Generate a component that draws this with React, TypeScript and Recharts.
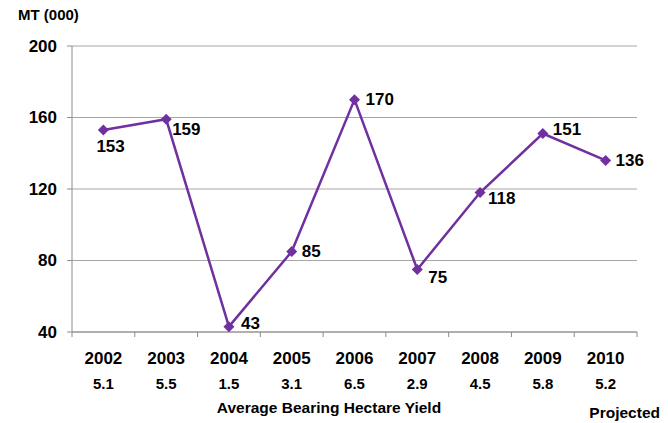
import { LineChart, Line, XAxis, YAxis, CartesianGrid, Label, LabelList } from 'recharts'

const YEARS = ['2002', '2003', '2004', '2005', '2006', '2007', '2008', '2009', '2010']
const YIELDS = ['5.1', '5.5', '1.5', '3.1', '6.5', '2.9', '4.5', '5.8', '5.2']
const PRODUCTION = [153, 159, 43, 85, 170, 75, 118, 151, 136]
const Y_TICKS = [40, 80, 120, 160, 200]

// per-point label nudges (dx, dy) so numbers sit clear of the line
const LABEL_NUDGE: [number, number][] = [
  [-7, 16], [6, 10], [12, -3], [10, 0], [11, 0], [11, 8], [8, 6], [10, -4], [10, 0],
]

const W = 668
const H = 423
const MARGIN = { top: 46, right: 31, bottom: 0, left: 0 }
const Y_AXIS_W = 72
const X_AXIS_H = 91
const BAND = (W - MARGIN.right - Y_AXIS_W) / YEARS.length

const PURPLE = '#7030a0'
const GRID = '#a6a6a6'
const AXIS = '#8c8c8c'
const FONT = '"Liberation Sans", Arial, sans-serif'

const data = PRODUCTION.map((v, i) => ({ x: i + 0.5, year: YEARS[i], yieldHa: YIELDS[i], value: v }))

function YearTick({ x, y, payload }: any) {
  const i = payload.value
  if (i >= YEARS.length) return <g />
  const cx = x + BAND / 2
  return (
    <g fontFamily={FONT} fontWeight="bold" fill="#000">
      <text x={cx} y={y + 25} textAnchor="middle" fontSize={17}>{YEARS[i]}</text>
      <text x={cx} y={y + 50} textAnchor="middle" fontSize={15}>{YIELDS[i]}</text>
    </g>
  )
}

function ValueTick({ x, y, payload }: any) {
  return (
    <text
      x={x}
      y={y}
      textAnchor="end"
      dominantBaseline="central"
      fontFamily={FONT}
      fontWeight="bold"
      fontSize={17}
      fill="#000"
    >
      {payload.value}
    </text>
  )
}

function Diamond({ cx, cy, index }: any) {
  const r = 5.5
  return (
    <path
      key={`d-${index}`}
      d={`M${cx},${cy - r}L${cx + r},${cy}L${cx},${cy + r}L${cx - r},${cy}Z`}
      fill={PURPLE}
    />
  )
}

function ValueLabel({ x, y, value, index }: any) {
  const [dx, dy] = LABEL_NUDGE[index] ?? [10, 0]
  return (
    <text
      x={x + dx}
      y={y + dy}
      dominantBaseline="central"
      fontFamily={FONT}
      fontWeight="bold"
      fontSize={17}
      fill="#000"
    >
      {value}
    </text>
  )
}

export default function App() {
  return (
    <div style={{ position: 'absolute', left: 0, top: 0, background: '#fff' }}>
      <LineChart width={W} height={H} data={data} margin={MARGIN}>
        <CartesianGrid vertical={false} stroke={GRID} strokeWidth={1} />
        <XAxis
          dataKey="x"
          type="number"
          domain={[0, YEARS.length]}
          ticks={YEARS.map((_, i) => i).concat(YEARS.length)}
          interval={0}
          height={X_AXIS_H}
          stroke={AXIS}
          tickSize={5}
          tick={<YearTick />}
        >
          <Label
            content={({ viewBox }: any) => (
              <g fontFamily={FONT} fontWeight="bold" fontSize={15.5} fill="#000">
                <text x={viewBox.x + 257} y={viewBox.y + 81} textAnchor="middle">
                  Average Bearing Hectare Yield
                </text>
                <text x={W - 8} y={viewBox.y + 86} textAnchor="end">Projected</text>
              </g>
            )}
          />
        </XAxis>
        <YAxis
          domain={[40, 200]}
          ticks={Y_TICKS}
          width={Y_AXIS_W}
          stroke={AXIS}
          tickSize={5}
          tickMargin={10}
          tick={<ValueTick />}
        >
          <Label
            content={() => (
              <text x={18} y={20} fontFamily={FONT} fontWeight="bold" fontSize={15} fill="#000">
                MT (000)
              </text>
            )}
          />
        </YAxis>
        <Line
          dataKey="value"
          stroke={PURPLE}
          strokeWidth={2.5}
          dot={<Diamond />}
          activeDot={false}
          isAnimationActive={false}
        >
          <LabelList dataKey="value" content={<ValueLabel />} />
        </Line>
      </LineChart>
    </div>
  )
}
